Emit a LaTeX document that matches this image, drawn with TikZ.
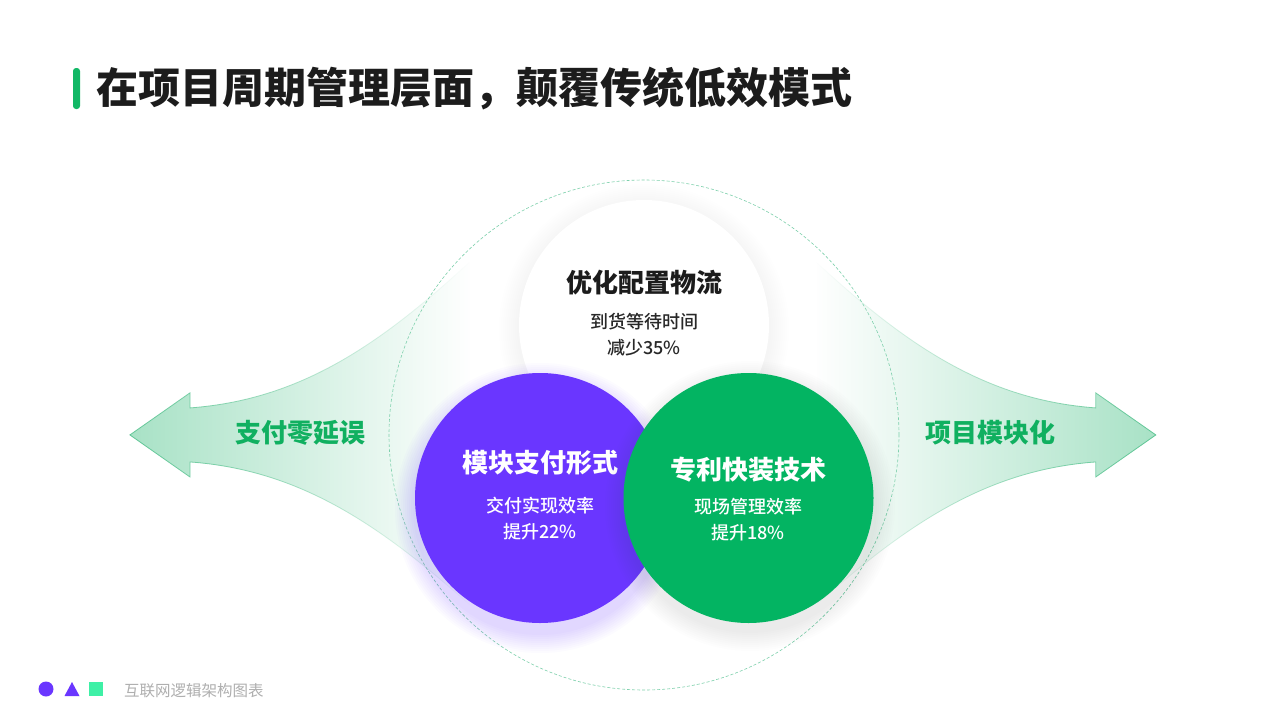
\documentclass[tikz,border=0pt]{standalone}
\usepackage{fontspec}
\newfontfamily\cjk{Noto Sans CJK SC}
\newfontfamily\cjkheavy{Noto Sans CJK SC Black}
\newfontfamily\cjkmed{Noto Sans CJK SC Medium}
\usetikzlibrary{fadings}
\definecolor{titlegreen}{RGB}{18,184,102}
\definecolor{mygreen}{RGB}{3,180,98}
\definecolor{mypurple}{RGB}{106,54,255}
\definecolor{arrowfill}{RGB}{168,226,198}
\definecolor{arrowline}{RGB}{96,198,150}
\definecolor{dashcol}{RGB}{125,208,172}
\definecolor{sidetext}{RGB}{16,176,96}
\definecolor{darktext}{RGB}{28,28,28}
\definecolor{subtext}{RGB}{40,40,40}
\definecolor{foottext}{RGB}{175,175,175}
\definecolor{mint}{RGB}{62,240,166}
\begin{document}
\begin{tikzpicture}[x=1pt,y=-1pt,
  every node/.style={font=\cjk, inner sep=0pt},
  ctitle/.style={font=\cjkheavy\fontsize{26}{30}\selectfont},
  cbody/.style={font=\cjkmed\fontsize{18}{26}\selectfont, align=center},
  sidelabel/.style={font=\cjkheavy\fontsize{26}{30}\selectfont, text=sidetext},
]
\useasboundingbox (0,0) rectangle (1280,720);
\fill[white] (0,0) rectangle (1280,720);

% title
\fill[titlegreen, rounded corners=3pt] (73,68) rectangle (80,109);
\node[anchor=west, text=darktext, font=\cjkheavy\fontsize{42}{48}\selectfont] (title) at (96,89) {在项目周期管理层面，颠覆传统低效模式};

% left arrow
\fill[arrowfill, path fading=east] (470,262) .. controls (380,345) and (300,400) .. (190,408) -- (190,393) -- (130,435) -- (190,477) -- (190,462) .. controls (300,470) and (380,525) .. (470,605) -- cycle;
\draw[arrowline, line width=0.8pt, path fading=east] (470,262) .. controls (380,345) and (300,400) .. (190,408) -- (190,393) -- (130,435) -- (190,477) -- (190,462) .. controls (300,470) and (380,525) .. (470,605);
% right arrow (mirror about x=643)
\fill[arrowfill, path fading=west] (816,262) .. controls (906,345) and (986,400) .. (1096,408) -- (1096,393) -- (1156,435) -- (1096,477) -- (1096,462) .. controls (986,470) and (906,525) .. (816,605) -- cycle;
\draw[arrowline, line width=0.8pt, path fading=west] (816,262) .. controls (906,345) and (986,400) .. (1096,408) -- (1096,393) -- (1156,435) -- (1096,477) -- (1096,462) .. controls (986,470) and (906,525) .. (816,605);

\node[sidelabel] (leftlbl) at (300,433) {支付零延误};
\node[sidelabel] (rightlbl) at (990,433) {项目模块化};

% dashed big circle
\draw[dashcol, line width=0.6pt, dash pattern=on 3pt off 2pt] (644,435) circle (255pt);

% white circle with soft shadow
\foreach \r in {2,4,...,20} {\fill[black, opacity=0.005] (644,329) circle (125pt+\r pt);}
\fill[white] (644,325) circle (125pt);
\node[ctitle, text=darktext] (t1) at (644,283) {优化配置物流};
\node[cbody, text=subtext] (b1) at (644,335) {到货等待时间\\减少35\%};

% purple circle with glow
\foreach \r in {2,4,...,20} {\fill[mypurple, opacity=0.018] (540,508) circle (125pt+\r pt);}
\fill[mypurple] (540,498) circle (125pt);
\node[ctitle, text=white] (t2) at (540,463) {模块支付形式};
\node[cbody, text=white] (b2) at (540,518.5) {交付实现效率\\提升22\%};

% green circle with shadow
\foreach \r in {2,4,...,20} {\fill[black!60!mygreen, opacity=0.008] (750,506) circle (125pt+\r pt);}
\fill[mygreen] (748.5,498) circle (125pt);
\node[ctitle, text=white] (t3) at (748,470) {专利快装技术};
\node[cbody, text=white] (b3) at (748,520) {现场管理效率\\提升18\%};

% footer
\fill[mypurple] (46,689) circle (7.5pt);
\fill[mypurple] (64.5,696) -- (79.5,696) -- (72,682) -- cycle;
\fill[mint] (89,682) rectangle (103,696);
\node[anchor=west, text=foottext, font=\cjk\fontsize{15.5}{18}\selectfont] (foot) at (124,691) {互联网逻辑架构图表};
\end{tikzpicture}
\end{document}
